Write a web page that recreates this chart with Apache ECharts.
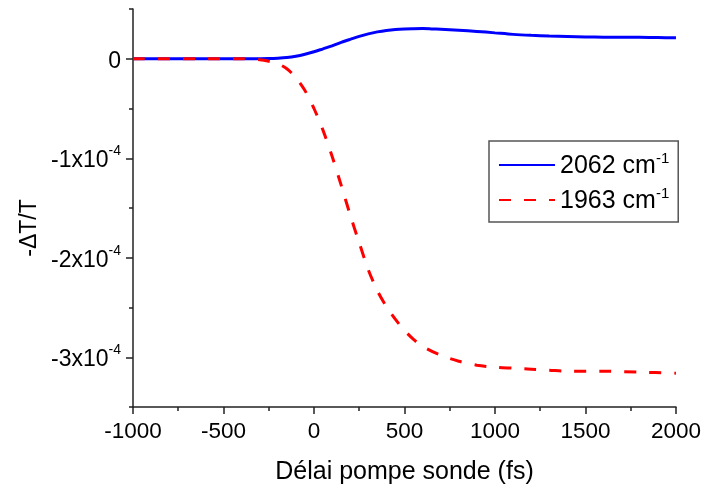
<!DOCTYPE html>
<html>
<head>
<meta charset="utf-8">
<script src="https://cdn.jsdelivr.net/npm/echarts@6/dist/echarts.min.js"></script>
<style>
  html, body { margin: 0; padding: 0; background: #fff; }
  #chart { width: 704px; height: 490px; }
</style>
</head>
<body>
<div id="chart"></div>
<script>
// Pump-probe transient transmission, values in units of 1e-4
const wavenumbers = ['2062', '1963'];

const delay2062 = [-1000, -800, -600, -400, -250, -200, -150, -100, -50, 0, 50, 100, 150, 200, 250, 300, 350, 400, 450, 500, 550, 600, 650, 700, 800, 900, 1000, 1100, 1200, 1300, 1400, 1500, 1600, 1700, 1800, 1900, 2000];
const signal2062 = [0, 0, 0, 0, 0.003, 0.006, 0.012, 0.025, 0.045, 0.07, 0.10, 0.13, 0.165, 0.195, 0.225, 0.25, 0.27, 0.285, 0.295, 0.30, 0.302, 0.303, 0.300, 0.296, 0.287, 0.275, 0.26, 0.245, 0.235, 0.228, 0.223, 0.219, 0.217, 0.216, 0.215, 0.213, 0.21];

const delay1963 = [-1000, -600, -400, -300, -250, -200, -150, -100, -50, 0, 50, 100, 150, 200, 250, 300, 350, 400, 450, 500, 550, 600, 700, 800, 900, 1000, 1100, 1200, 1300, 1400, 1600, 1800, 2000];
const signal1963 = [0, 0, 0, -0.01, -0.025, -0.05, -0.10, -0.19, -0.32, -0.50, -0.72, -0.98, -1.27, -1.57, -1.85, -2.12, -2.33, -2.49, -2.62, -2.73, -2.82, -2.89, -2.98, -3.04, -3.08, -3.10, -3.11, -3.12, -3.13, -3.14, -3.14, -3.15, -3.16];

const xMajorTicks = [-1000, -500, 0, 500, 1000, 1500, 2000];
const yMajorTicks = [0, -1, -2, -3];

const FONT = '"Liberation Sans", Arial, sans-serif';
const AXIS_COLOR = '#222';

function pairs(xs, ys) { return xs.map((x, i) => [x, ys[i]]); }

const chart = echarts.init(document.getElementById('chart'), null, { renderer: 'canvas' });

const baseX = {
  type: 'value', min: -1000, max: 2000, position: 'bottom',
  splitLine: { show: false }
};
const baseY = {
  type: 'value', min: -3.5, max: 0.5, position: 'left',
  splitLine: { show: false }
};

chart.setOption({
  animation: false,
  backgroundColor: '#fff',
  grid: { left: 133, right: 25, top: 9, bottom: 81, containLabel: false },
  xAxis: [
    Object.assign({}, baseX, {
      interval: 250,
      axisLine: { show: true, onZero: false, lineStyle: { color: AXIS_COLOR, width: 1.5 } },
      axisTick: { show: true, length: 4, lineStyle: { color: AXIS_COLOR, width: 1.5 } },
      axisLabel: {
        customValues: xMajorTicks, margin: 13,
        formatter: v => String(v),
        fontFamily: FONT, fontSize: 22.5, color: '#000'
      },
      name: 'Délai pompe sonde (fs)', nameLocation: 'middle', nameGap: 53,
      nameTextStyle: { fontFamily: FONT, fontSize: 25, color: '#000' }
    }),
    Object.assign({}, baseX, {
      axisLine: { show: false, onZero: false },
      axisTick: { show: true, customValues: xMajorTicks, length: 7, lineStyle: { color: AXIS_COLOR, width: 1.5 } },
      axisLabel: { show: false }
    })
  ],
  yAxis: [
    Object.assign({}, baseY, {
      interval: 0.5,
      axisLine: { show: true, onZero: false, lineStyle: { color: AXIS_COLOR, width: 1.5 } },
      axisTick: { show: true, length: 4, lineStyle: { color: AXIS_COLOR, width: 1.5 } },
      axisLabel: {
        customValues: yMajorTicks, margin: 12, color: '#000',
        formatter: v => v === 0 ? '{b|0}' : '{b|' + Math.round(v) + 'x10}{s|-4}',
        rich: {
          b: { fontFamily: FONT, fontSize: 23, color: '#000', verticalAlign: 'bottom', lineHeight: 28 },
          s: { fontFamily: FONT, fontSize: 14, color: '#000', verticalAlign: 'top', lineHeight: 14 }
        }
      }
    }),
    Object.assign({}, baseY, {
      axisLine: { show: false, onZero: false },
      axisTick: { show: true, customValues: yMajorTicks, length: 7, lineStyle: { color: AXIS_COLOR, width: 1.5 } },
      axisLabel: { show: false }
    })
  ],
  legend: {
    orient: 'vertical',
    left: 489, top: 141,
    padding: [10, 9, 8, 9],
    itemGap: 7,
    itemWidth: 56, itemHeight: 14,
    backgroundColor: '#fff',
    borderColor: '#555', borderWidth: 1.5, borderRadius: 0,
    data: wavenumbers,
    itemStyle: { opacity: 0 },
    formatter: name => '{a|' + name + ' cm}{s|-1}',
    textStyle: {
      rich: {
        a: { fontFamily: FONT, fontSize: 25, color: '#000', verticalAlign: 'bottom', lineHeight: 28 },
        s: { fontFamily: FONT, fontSize: 15, color: '#000', verticalAlign: 'top', lineHeight: 15 }
      }
    }
  },
  graphic: [{
    type: 'text', x: 30, y: 228, rotation: Math.PI / 2,
    style: { text: '-ΔT/T', font: '23px ' + FONT, fill: '#000', align: 'center', verticalAlign: 'middle' }
  }],
  series: [
    {
      name: wavenumbers[0], type: 'line', xAxisIndex: 0, yAxisIndex: 0,
      data: pairs(delay2062, signal2062), smooth: 0.3,
      showSymbol: false, symbol: 'none',
      lineStyle: { color: '#0000ff', width: 3 },
      itemStyle: { color: '#0000ff' }
    },
    {
      name: wavenumbers[1], type: 'line', xAxisIndex: 0, yAxisIndex: 0,
      data: pairs(delay1963, signal1963), smooth: 0.3,
      showSymbol: false, symbol: 'none',
      lineStyle: { color: '#ff0000', width: 3, type: [12, 13] },
      itemStyle: { color: '#ff0000' }
    }
  ]
});
</script>
</body>
</html>
